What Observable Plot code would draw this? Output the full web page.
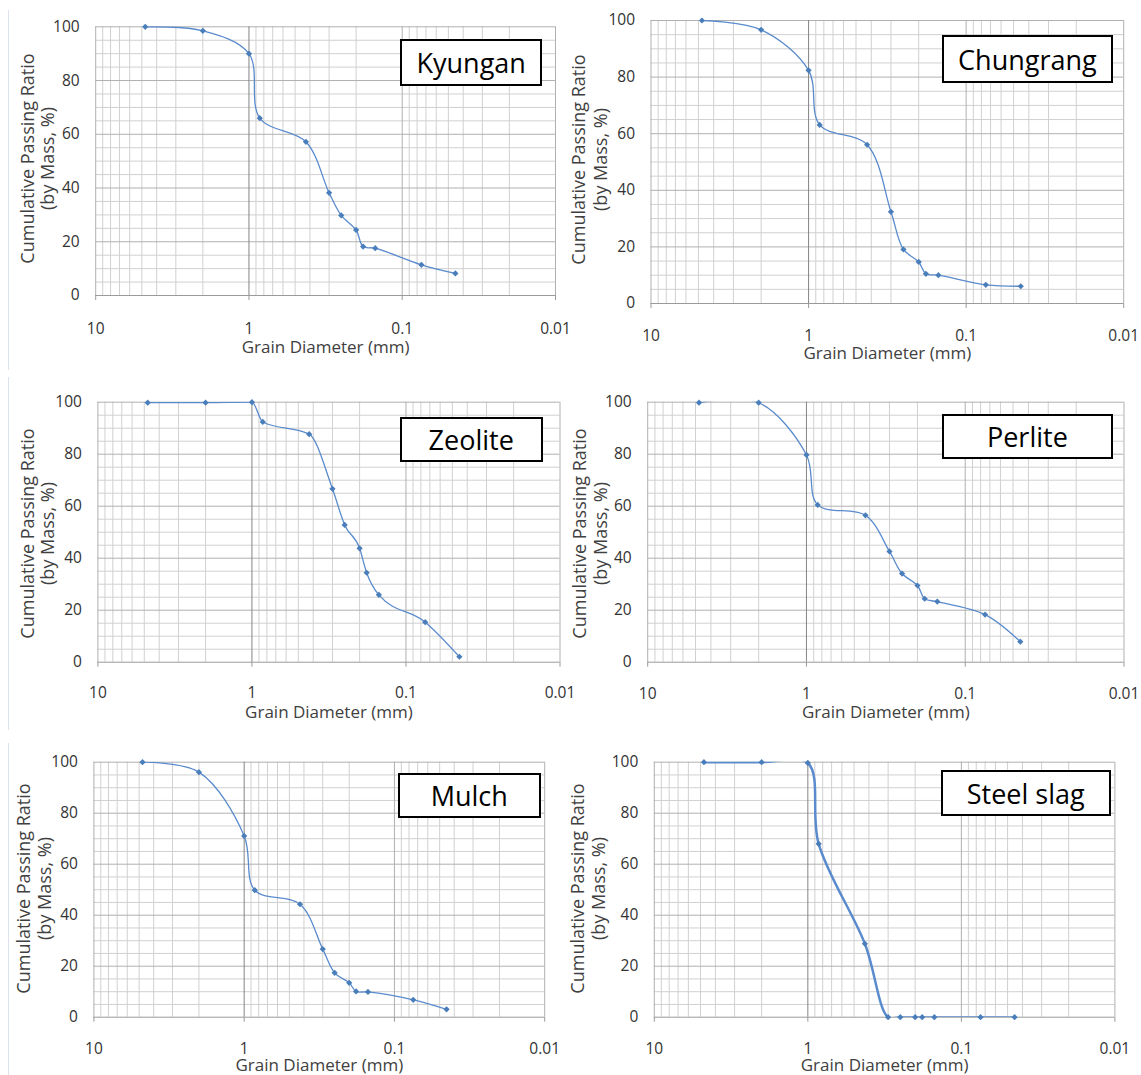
<!DOCTYPE html>
<html><head><meta charset="utf-8">
<script src="https://cdn.jsdelivr.net/npm/d3@7"></script>
<script src="https://cdn.jsdelivr.net/npm/@observablehq/plot@0.6"></script>
<style>
body{margin:0;background:#fff;}
#wrap{position:relative;width:1141px;height:1075px;overflow:hidden;font-family:"Open Sans",sans-serif;background:#fff;}
.panel{position:absolute;}
.panel svg{overflow:visible;}
.label{position:absolute;border:2px solid #000;background:#fff;display:flex;align-items:center;justify-content:center;font-size:27px;color:#000;box-sizing:border-box;font-family:"Open Sans",sans-serif;white-space:nowrap;}
.sep{position:absolute;width:1px;background:#dde3ec;}
</style></head><body><div id="wrap"></div>
<script>
// Sieve sizes (mm)
const sizes = [4.75, 2.0, 1.0, 0.85, 0.425, 0.3, 0.25, 0.2, 0.18, 0.15, 0.075, 0.045];
// Cumulative passing (%) per material
const kyungan   = [100, 98.5, 90.0, 66.0, 57.2, 38.2, 29.8, 24.4, 18.2, 17.6, 11.4, 8.2];
const chungrang = [100, 96.7, 82.4, 63.1, 56.1, 32.4, 19.1, 14.7, 10.5, 10.0, 6.6, 6.1];
const zeolite   = [99.8, 99.8, 100, 92.4, 87.7, 66.7, 52.8, 43.8, 34.4, 25.9, 15.4, 2.1];
const perlite   = [99.8, 99.8, 79.7, 60.5, 56.5, 42.6, 34.1, 29.5, 24.4, 23.3, 18.3, 7.9];
const mulch     = [100, 96.1, 71.1, 49.8, 44.3, 26.7, 17.4, 13.5, 10.1, 9.9, 6.8, 3.1];
const steelSlag = [100, 100, 99.7, 68.0, 28.8, 0, 0, 0, 0, 0, 0, 0];
const names = ["Kyungan", "Chungrang", "Zeolite", "Perlite", "Mulch", "Steel slag"];

// Axis ticks
const xTicks = [10, 1, 0.1, 0.01];
const xTickLabels = ["10", "1", "0.1", "0.01"];
const xMinor = [9,8,7,6,5,4,3,2, 0.9,0.8,0.7,0.6,0.5,0.4,0.3,0.2, 0.09,0.08,0.07,0.06,0.05,0.04,0.03,0.02];
const yTicks = [0, 20, 40, 60, 80, 100];
const yMinor = [5,10,15,25,30,35,45,50,55,65,70,75,85,90,95];
const xTitle = "Grain Diameter (mm)";
const yTitle1 = "Cumulative Passing Ratio";
const yTitle2 = "(by Mass, %)";

// Layout of the six panels (pixel geometry)
const layout = [
  {values: kyungan,   left: 0,   top: 0,   width: 570, height: 370, x10: 95.2,  x001: 555.0,  y100: 26.3,  y0: 295.0,  box: [400, 39, 142.4, 47],   yl: [27.3, 47.3], yc: 158, tickY: 328,   titleY: 347,   lw: 1.3, curve: "catmull-rom"},
  {values: chungrang, left: 570, top: 0,   width: 571, height: 370, x10: 650.5, x001: 1123.2, y100: 20.0,  y0: 303.0,  box: [942.2, 35, 170.4, 48], yl: [579, 601],   yc: 159, tickY: 335,   titleY: 352.7, lw: 1.3, curve: "catmull-rom"},
  {values: zeolite,   left: 0,   top: 370, width: 570, height: 360, x10: 97.4,  x001: 559.5,  y100: 401.7, y0: 661.7,  box: [400, 416.7, 142.5, 45], yl: [27.3, 47.3], yc: 533, tickY: 691.7, titleY: 711.7, lw: 1.3, curve: "monotone-x"},
  {values: perlite,   left: 570, top: 370, width: 571, height: 360, x10: 647.2, x001: 1123.5, y100: 401.7, y0: 661.7,  box: [942.2, 414.3, 170.4, 45], yl: [580.2, 601], yc: 533, tickY: 692.7, titleY: 711.7, lw: 1.3, curve: "catmull-rom"},
  {values: mulch,     left: 0,   top: 730, width: 570, height: 345, x10: 93.4,  x001: 544.2,  y100: 761.7, y0: 1016.7, box: [398, 773.3, 142.5, 44.4], yl: [23.6, 44.3], yc: 888, tickY: 1048.3, titleY: 1065, lw: 1.3, curve: "catmull-rom"},
  {values: steelSlag, left: 570, top: 730, width: 571, height: 345, x10: 653.8, x001: 1114.4, y100: 761.7, y0: 1016.7, box: [940.7, 770, 170.1, 46], yl: [577.3, 599.1], yc: 888, tickY: 1048.3, titleY: 1065, lw: 2.5, curve: "catmull-rom"}
];

const wrap = document.getElementById("wrap");

// faint chart borders on left column
[[10, 370], [377, 730], [743, 1075]].forEach(([a, b]) => {
  const s = document.createElement("div");
  s.className = "sep";
  s.style.left = "8px"; s.style.top = a + "px"; s.style.height = (b - a) + "px";
  wrap.appendChild(s);
});

layout.forEach((p, k) => {
  const mL = p.x10 - p.left, mR = p.left + p.width - p.x001;
  const mT = p.y100 - p.top, mB = p.top + p.height - p.y0;
  const frameMid = (p.y100 + p.y0) / 2;
  const data = sizes.map((s, i) => ({size: s, pass: p.values[i]}));
  const chart = Plot.plot({
    width: p.width, height: p.height,
    marginLeft: mL, marginRight: mR, marginTop: mT, marginBottom: mB,
    style: {background: "transparent", overflow: "visible", fontFamily: "'Open Sans', sans-serif", color: "#333"},
    x: {type: "log", domain: [10, 0.01]},
    y: {domain: [0, 100]},
    marks: [
      Plot.ruleX(xMinor, {stroke: "#d0d0d0", strokeWidth: 1}),
      Plot.ruleY(yMinor, {stroke: "#d0d0d0", strokeWidth: 1}),
      Plot.ruleY(yTicks.filter(d => d > 0), {stroke: "#b0b0b0", strokeWidth: 1}),
      Plot.ruleX([10, 0.1, 0.01], {stroke: "#b0b0b0", strokeWidth: 1}),
      Plot.ruleX([1], {stroke: "#858585", strokeWidth: 1}),
      Plot.ruleY([0], {stroke: "#9a9a9a", strokeWidth: 1}),
      Plot.axisX({ticks: xTicks, tickSize: 5, tickFormat: () => "", stroke: "#9a9a9a", label: null}),
      Plot.axisX({ticks: xTicks, tickSize: 0, tickPadding: p.tickY - p.y0 - 5.6, fontSize: 15.5, fill: "#333",
                  tickFormat: d => xTickLabels[xTicks.indexOf(d)], label: null}),
      Plot.axisY({ticks: yTicks, tickSize: 0, tickPadding: 16, fontSize: 15.5, fill: "#333", label: null}),
      Plot.line(data, {x: "size", y: "pass", curve: p.curve, stroke: "#5a8bcd", strokeWidth: p.lw, clip: true}),
      Plot.dot(data, {x: "size", y: "pass", symbol: "diamond2", r: 2.8, fill: "#4a7ebb", stroke: "none"}),
      Plot.text([yTitle1], {frameAnchor: "left", textAnchor: "middle", lineAnchor: "middle", dx: p.yl[0] - p.x10, dy: p.yc - frameMid, rotate: -90, fontSize: 18, fill: "#404040", text: d => d}),
      Plot.text([yTitle2], {frameAnchor: "left", textAnchor: "middle", lineAnchor: "middle", dx: p.yl[1] - p.x10, dy: p.yc - frameMid, rotate: -90, fontSize: 18, fill: "#404040", text: d => d}),
      Plot.text([xTitle], {frameAnchor: "bottom", textAnchor: "middle", lineAnchor: "middle", dy: p.titleY - p.y0, fontSize: 17, fill: "#404040", text: d => d})
    ]
  });
  const div = document.createElement("div");
  div.className = "panel";
  div.style.left = p.left + "px"; div.style.top = p.top + "px";
  div.style.width = p.width + "px"; div.style.height = p.height + "px";
  div.appendChild(chart);
  wrap.appendChild(div);

  const lab = document.createElement("div");
  lab.className = "label";
  lab.textContent = names[k];
  lab.style.left = p.box[0] + "px"; lab.style.top = p.box[1] + "px";
  lab.style.width = p.box[2] + "px"; lab.style.height = p.box[3] + "px";
  wrap.appendChild(lab);
});
</script>
</body></html>
